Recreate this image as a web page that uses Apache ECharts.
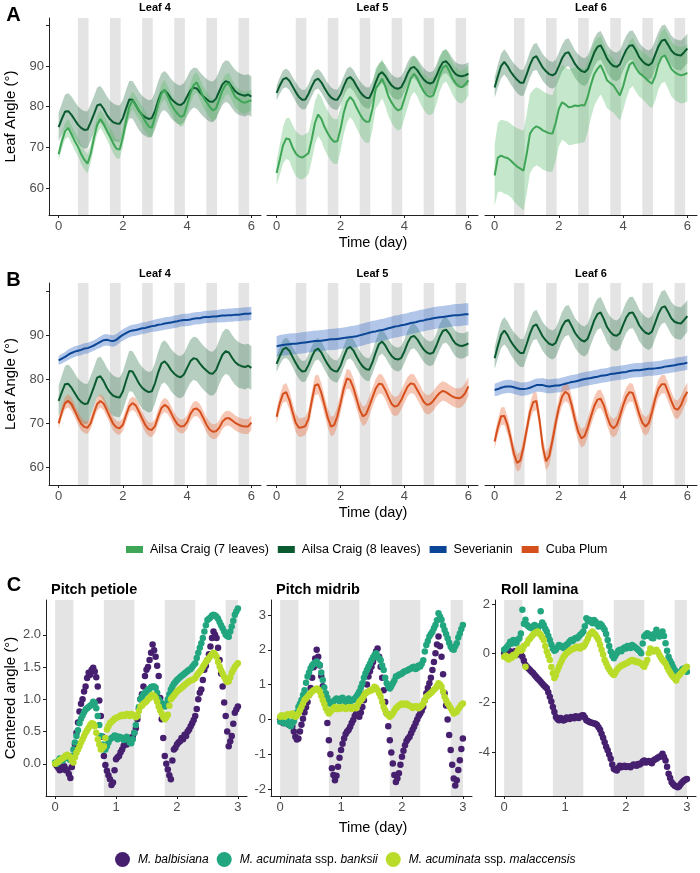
<!DOCTYPE html>
<html><head><meta charset="utf-8">
<script src="https://cdn.jsdelivr.net/npm/echarts@6/dist/echarts.min.js"></script>
<style>html,body{margin:0;padding:0;background:#fff}#c{width:700px;height:873px}</style>
</head><body><div id="c"></div>
<script>
// ---------- time axes ----------
const tAB = [0,0.1,0.2,0.3,0.4,0.5,0.6,0.7,0.8,0.9,1,1.1,1.2,1.3,1.4,1.5,1.6,1.7,1.8,1.9,2,2.1,2.2,2.3,2.4,2.5,2.6,2.7,2.8,2.9,3,3.1,3.2,3.3,3.4,3.5,3.6,3.7,3.8,3.9,4,4.1,4.2,4.3,4.4,4.5,4.6,4.7,4.8,4.9,5,5.1,5.2,5.3,5.4,5.5,5.6,5.7,5.8,5.9,6];
const tC = [0,0.025,0.05,0.075,0.1,0.125,0.15,0.175,0.2,0.225,0.25,0.275,0.3,0.325,0.35,0.375,0.4,0.425,0.45,0.475,0.5,0.525,0.55,0.575,0.6,0.625,0.65,0.675,0.7,0.725,0.75,0.775,0.8,0.825,0.85,0.875,0.9,0.925,0.95,0.975,1,1.025,1.05,1.075,1.1,1.125,1.15,1.175,1.2,1.225,1.25,1.275,1.3,1.325,1.35,1.375,1.4,1.425,1.45,1.475,1.5,1.525,1.55,1.575,1.6,1.625,1.65,1.675,1.7,1.725,1.75,1.775,1.8,1.825,1.85,1.875,1.9,1.925,1.95,1.975,2,2.025,2.05,2.075,2.1,2.125,2.15,2.175,2.2,2.225,2.25,2.275,2.3,2.325,2.35,2.375,2.4,2.425,2.45,2.475,2.5,2.525,2.55,2.575,2.6,2.625,2.65,2.675,2.7,2.725,2.75,2.775,2.8,2.825,2.85,2.875,2.9,2.925,2.95,2.975,3];
const nightsAB = [[0.6,0.93],[1.6,1.93],[2.6,2.93],[3.6,3.93],[4.6,4.93],[5.6,5.93]];
const nightsC = [[0,0.3],[0.8,1.3],[1.8,2.3],[2.8,3]];

// ---------- tick labels ----------
const ticksX_AB = [0,2,4,6];
const labelsY_AB = [60,70,80,90];
const ticksY_AB = [60,70,80,90,100];
const ticksX_C = [0,1,2,3];
const ticksY_C1 = [0,0.5,1,1.5,2];
const ticksY_C2 = [-2,-1,0,1,2,3];
const ticksY_C3 = [-4,-2,0,2];

// ---------- names ----------
const leafTitles = ['Leaf 4','Leaf 5','Leaf 6'];
const cTitles = ['Pitch petiole','Pitch midrib','Roll lamina'];
const genotypes = ['Ailsa Craig (7 leaves)','Ailsa Craig (8 leaves)','Severianin','Cuba Plum'];
const species = ['M. balbisiana','M. acuminata ssp. banksii','M. acuminata ssp. malaccensis'];

// ---------- Ailsa Craig (8 leaves): mean & half-width ----------
const L4_AC8 = [75.0,77.0,78.8,78.9,78.0,76.8,75.6,74.8,74.3,74.4,76.2,78.2,80.3,80.6,79.5,78.0,76.9,76.2,75.9,75.8,77.2,79.6,81.8,81.7,80.4,79.0,78.0,77.4,77.0,77.2,79.0,81.5,83.5,84.0,83.2,82.0,81.2,80.6,80.4,81.0,82.5,84.0,84.7,84.5,83.5,82.6,81.9,81.3,81.2,82.0,83.8,85.5,86.3,86.0,84.8,83.8,83.2,82.9,82.7,83.0,82.5];
const L4_AC8w = [3.5,3.8,4.2,4.4,4.5,4.5,4.5,4.6,4.6,4.5,4.5,4.4,4.4,4.5,4.5,4.6,4.6,4.6,4.5,4.5,4.5,4.5,4.6,4.6,4.7,4.7,4.7,4.6,4.6,4.6,4.6,4.7,4.7,4.8,4.8,4.8,4.8,4.8,4.8,4.8,4.8,4.9,4.9,5.0,5.0,5.0,5.0,5.0,5.0,5.0,5.0,5.1,5.1,5.2,5.2,5.2,5.2,5.1,5.1,5.0,5.0];
const L5_AC8 = [83.4,85.2,86.7,87.1,86.4,85.0,83.6,82.4,81.7,81.8,83.2,85.0,86.5,86.9,86.0,84.6,83.3,82.3,81.8,81.7,83.0,85.0,86.8,87.3,86.5,85.1,83.8,82.8,82.2,82.1,83.8,86.0,87.9,88.5,87.6,86.3,85.2,84.6,84.4,84.8,86.3,88.2,89.5,89.8,89.0,87.8,86.7,86.0,85.7,86.0,87.6,89.5,90.9,91.2,90.3,89.0,88.0,87.6,87.5,87.7,88.1];
const L5_AC8w = [1.8,2.0,2.2,2.3,2.3,2.3,2.4,2.4,2.4,2.4,2.4,2.4,2.4,2.4,2.5,2.5,2.5,2.5,2.5,2.5,2.5,2.5,2.5,2.6,2.6,2.6,2.6,2.6,2.6,2.6,2.6,2.7,2.7,2.7,2.7,2.7,2.7,2.7,2.7,2.7,2.7,2.8,2.8,2.8,2.8,2.8,2.8,2.8,2.8,2.8,2.8,2.9,2.9,2.9,2.9,2.9,2.9,2.9,2.9,2.8,2.8];
const L6_AC8 = [84.7,87.5,90.0,91.0,90.0,88.6,87.5,86.6,85.9,85.9,88.0,90.3,92.0,92.4,91.0,89.6,88.7,88.0,87.7,88.2,90.0,91.9,93.1,93.4,92.0,90.5,89.5,88.8,88.5,89.2,91.2,93.3,94.7,95.1,93.6,91.8,90.7,90.0,89.8,90.4,92.3,94.0,95.0,95.1,93.8,92.2,91.2,90.5,90.2,90.8,92.8,94.8,96.2,96.5,95.2,93.8,93.0,92.7,92.6,93.4,94.3];
const L6_AC8w = [2.5,2.8,3.0,3.1,3.1,3.1,3.1,3.2,3.2,3.2,3.2,3.2,3.2,3.3,3.3,3.3,3.3,3.3,3.3,3.3,3.3,3.3,3.4,3.4,3.4,3.4,3.4,3.4,3.4,3.4,3.4,3.5,3.5,3.5,3.5,3.5,3.5,3.5,3.5,3.5,3.5,3.5,3.6,3.6,3.6,3.6,3.6,3.6,3.6,3.6,3.6,3.6,3.7,3.7,3.7,3.7,3.7,3.7,3.7,3.6,3.6];

// ---------- Ailsa Craig (7 leaves) ----------
const L4_AC7 = [68.3,71.5,74.0,74.8,73.2,71.6,70.2,68.4,67.0,66.0,68.5,72.3,75.5,77.0,75.8,74.2,72.6,71.0,69.7,69.5,72.5,76.5,80.0,81.6,80.4,79.1,77.8,76.4,75.2,74.8,77.5,80.7,83.2,84.2,82.5,80.7,79.3,78.3,77.5,77.9,80.5,83.2,85.3,86.0,84.3,82.4,81.2,80.0,79.1,79.6,81.8,84.0,85.4,85.7,84.0,82.4,81.8,81.2,81.0,81.3,81.6];
const L4_AC7w = [1.5,1.8,2.0,2.2,2.2,2.3,2.3,2.4,2.4,2.4,2.3,2.2,2.2,2.2,2.3,2.3,2.4,2.4,2.4,2.3,2.3,2.2,2.2,2.2,2.3,2.3,2.4,2.4,2.4,2.3,2.3,2.3,2.3,2.4,2.4,2.5,2.5,2.5,2.5,2.4,2.4,2.4,2.5,2.5,2.5,2.6,2.6,2.6,2.6,2.5,2.5,2.5,2.6,2.6,2.6,2.7,2.7,2.7,2.7,2.6,2.6];
const L5_AC7 = [63.7,67.0,70.5,72.2,72.0,70.0,68.5,67.8,67.5,68.0,68.6,72.0,76.0,78.1,77.0,75.0,73.5,72.2,71.4,71.5,74.5,78.5,81.2,82.4,81.5,79.8,78.3,77.0,76.3,76.4,79.5,84.5,85.5,86.9,85.0,82.5,81.0,79.8,79.1,79.5,82.0,84.5,87.0,88.1,87.0,85.2,83.8,82.8,82.4,82.8,85.0,87.8,89.6,90.2,88.8,87.0,85.8,85.0,84.8,85.5,86.5];
const L5_AC7w = [3.0,3.8,4.5,5.0,5.3,5.5,5.5,5.5,5.4,5.3,5.2,5.2,5.3,5.3,5.4,5.5,5.5,5.5,5.5,5.5,5.4,5.3,5.1,5.0,5.0,5.0,5.1,5.2,5.2,5.2,5.1,5.0,4.8,4.8,4.8,4.9,5.0,5.0,5.0,4.9,4.8,4.6,4.5,4.4,4.4,4.5,4.5,4.5,4.5,4.4,4.3,4.1,4.0,4.0,4.0,4.0,4.0,4.0,4.0,3.9,3.8];
const L6_AC7 = [63.1,67.5,68.0,67.6,67.4,66.8,66.0,65.3,64.8,64.3,68.5,73.4,74.6,75.2,74.8,74.2,73.8,73.5,73.4,76.0,79.5,81.1,80.6,79.9,80.0,80.3,80.2,80.4,80.3,82.5,85.5,88.0,89.3,90.2,88.5,86.5,85.8,85.2,84.0,82.8,85.0,88.0,90.3,91.0,89.5,88.3,87.7,87.0,86.2,85.7,87.5,90.5,92.2,92.6,91.0,89.3,88.5,88.0,87.7,87.9,88.3];
const L6_AC7w = [7.5,8.5,8.8,9.0,9.0,9.0,9.2,9.4,9.6,9.8,9.8,9.7,9.6,9.6,9.6,9.6,9.6,9.5,9.4,9.3,9.2,9.2,9.2,9.3,9.4,9.4,9.3,9.2,9.0,8.6,8.2,7.8,7.5,7.2,7.0,6.9,6.8,6.6,6.4,6.2,6.0,6.0,6.0,5.9,5.8,5.8,5.8,5.9,6.0,6.0,6.0,6.2,6.4,6.5,6.6,6.7,6.8,6.8,6.9,7.0,7.0];

// ---------- Severianin ----------
const L4_SEV = [84.2,84.6,85.0,85.5,85.9,86.2,86.4,86.6,86.9,87.0,87.3,87.6,88.0,88.4,88.8,88.9,88.7,88.6,88.9,89.5,90.0,90.4,90.8,91.0,91.1,91.3,91.5,91.6,91.8,92.0,92.1,92.3,92.4,92.6,92.7,92.8,93.0,93.1,93.3,93.4,93.4,93.5,93.7,93.8,93.8,94.0,94.1,94.1,94.2,94.2,94.3,94.4,94.4,94.5,94.5,94.6,94.6,94.7,94.8,94.8,94.9];
const L4_SEVw = [1.0,1.1,1.1,1.2,1.2,1.2,1.2,1.2,1.2,1.2,1.2,1.2,1.2,1.3,1.3,1.3,1.3,1.3,1.3,1.3,1.3,1.3,1.3,1.3,1.3,1.3,1.3,1.3,1.3,1.3,1.4,1.4,1.4,1.4,1.4,1.4,1.4,1.4,1.4,1.4,1.4,1.4,1.4,1.4,1.4,1.4,1.4,1.4,1.4,1.4,1.5,1.5,1.5,1.5,1.5,1.5,1.5,1.5,1.5,1.5,1.5];
const L5_SEV = [87.4,87.6,87.7,87.8,87.9,88.0,88.0,88.1,88.2,88.3,88.4,88.5,88.6,88.6,88.7,88.8,88.9,89.0,89.0,89.1,89.2,89.3,89.4,89.5,89.6,89.7,89.9,90.1,90.3,90.5,90.7,90.8,91.0,91.1,91.3,91.5,91.7,91.9,92.0,92.2,92.3,92.5,92.7,92.8,93.0,93.2,93.3,93.5,93.6,93.8,93.9,94.0,94.1,94.2,94.3,94.4,94.5,94.5,94.6,94.7,94.7];
const L5_SEVw = [2.3,2.4,2.4,2.4,2.4,2.4,2.4,2.4,2.4,2.4,2.4,2.4,2.4,2.4,2.4,2.4,2.4,2.4,2.4,2.4,2.4,2.4,2.4,2.5,2.5,2.5,2.5,2.5,2.5,2.5,2.5,2.5,2.5,2.5,2.5,2.5,2.5,2.5,2.5,2.5,2.5,2.5,2.5,2.5,2.5,2.5,2.5,2.5,2.5,2.5,2.5,2.5,2.5,2.5,2.5,2.5,2.5,2.5,2.5,2.5,2.5];
const L6_SEV = [77.5,77.7,78.0,78.2,78.3,78.3,78.1,77.9,77.7,77.7,77.8,78.0,78.3,78.6,78.6,78.6,78.4,78.3,78.4,78.5,78.5,78.7,78.9,79.1,79.3,79.4,79.6,79.8,80.0,80.1,80.2,80.4,80.5,80.7,80.8,80.9,81.1,81.2,81.3,81.4,81.5,81.6,81.8,81.9,82.0,82.0,82.1,82.2,82.3,82.3,82.4,82.5,82.6,82.8,82.9,83.0,83.1,83.3,83.4,83.5,83.7];
const L6_SEVw = [1.4,1.5,1.5,1.5,1.5,1.5,1.5,1.5,1.5,1.5,1.5,1.5,1.5,1.5,1.5,1.6,1.6,1.6,1.6,1.6,1.6,1.6,1.6,1.6,1.6,1.6,1.6,1.6,1.6,1.6,1.6,1.6,1.6,1.6,1.6,1.6,1.6,1.6,1.6,1.6,1.6,1.6,1.6,1.6,1.6,1.6,1.6,1.6,1.6,1.6,1.6,1.6,1.6,1.6,1.6,1.6,1.6,1.6,1.6,1.6,1.6];

// ---------- Cuba Plum ----------
const L4_CP = [69.9,72.5,74.5,75.0,74.3,72.8,71.2,69.8,69.1,68.9,70.0,72.3,74.3,75.0,74.4,72.9,71.3,69.8,69.0,68.8,69.6,71.8,73.8,74.5,74.0,72.6,71.0,69.5,68.6,68.4,69.3,71.5,73.4,74.1,73.6,72.3,70.8,69.7,69.2,69.3,70.2,72.0,73.1,73.3,72.6,71.2,69.6,68.5,68.0,68.1,68.9,70.3,71.0,71.1,70.6,70.0,69.6,69.3,69.2,69.2,70.1];
const L4_CPw = [1.2,1.3,1.4,1.5,1.5,1.5,1.5,1.5,1.4,1.4,1.4,1.4,1.5,1.5,1.5,1.5,1.5,1.5,1.5,1.5,1.5,1.5,1.5,1.5,1.6,1.6,1.6,1.6,1.6,1.6,1.6,1.6,1.6,1.6,1.6,1.6,1.6,1.6,1.6,1.6,1.6,1.6,1.7,1.7,1.7,1.7,1.7,1.7,1.7,1.7,1.7,1.7,1.7,1.7,1.7,1.7,1.7,1.7,1.7,1.7,1.7];
const L5_CP = [71.4,74.5,76.6,77.0,75.2,72.5,70.0,68.9,69.0,69.3,71.0,75.0,78.5,78.8,76.8,74.0,71.2,69.2,69.5,71.5,74.5,77.8,80.1,79.8,78.0,75.5,73.0,71.5,72.0,73.8,75.8,77.8,78.9,78.8,77.5,75.8,74.3,73.7,74.0,75.2,76.8,78.3,79.0,78.8,77.5,76.2,74.8,74.1,74.3,75.0,76.0,76.8,77.3,77.0,76.5,76.0,75.7,75.6,75.9,76.8,78.3];
const L5_CPw = [1.6,1.8,2.0,2.1,2.1,2.1,2.1,2.1,2.1,2.1,2.1,2.1,2.2,2.2,2.2,2.2,2.2,2.2,2.2,2.2,2.2,2.2,2.2,2.2,2.2,2.2,2.2,2.2,2.2,2.2,2.2,2.2,2.2,2.2,2.2,2.2,2.2,2.2,2.2,2.2,2.2,2.2,2.2,2.2,2.2,2.2,2.2,2.2,2.2,2.2,2.2,2.2,2.2,2.2,2.2,2.2,2.2,2.2,2.2,2.2,2.2];
const L6_CP = [65.8,69.0,71.5,71.6,69.5,66.5,63.0,60.9,61.5,64.5,68.5,72.5,74.7,75.0,70.5,64.5,61.3,62.5,66.0,70.0,73.5,76.0,77.1,76.5,74.0,70.8,68.0,66.5,67.0,69.0,71.5,73.8,75.3,75.5,74.0,71.5,69.5,68.8,69.5,71.5,74.0,76.0,77.0,76.8,74.5,72.0,70.0,69.2,70.0,72.5,75.5,77.8,78.8,78.8,77.0,75.0,73.3,73.0,74.0,75.8,77.1];
const L6_CPw = [1.6,1.8,2.0,2.0,2.0,2.0,2.0,2.0,2.0,2.0,2.0,2.0,2.1,2.1,2.1,2.1,2.1,2.1,2.1,2.1,2.1,2.1,2.1,2.1,2.1,2.1,2.1,2.1,2.1,2.1,2.1,2.1,2.1,2.1,2.1,2.1,2.1,2.1,2.1,2.1,2.1,2.1,2.1,2.1,2.1,2.1,2.1,2.1,2.1,2.1,2.1,2.1,2.1,2.1,2.1,2.1,2.1,2.1,2.1,2.1,2.1];

// ---------- Banana (C), centered angles ----------
const petiole_balb = [0.0,-0.03,-0.06,-0.1,-0.09,-0.05,-0.04,-0.1,-0.09,-0.16,-0.22,-0.05,0.12,0.3,0.48,0.64,0.81,0.93,1.0,1.12,1.2,1.33,1.41,1.38,1.46,1.49,1.43,1.34,1.2,0.98,0.74,0.42,0.12,-0.02,-0.11,-0.18,-0.24,-0.33,-0.29,-0.1,0.07,0.1,0.12,0.18,0.22,0.28,0.32,0.3,0.35,0.4,0.38,0.42,0.48,0.55,0.69,0.85,1.0,1.08,1.2,1.36,1.46,1.5,1.61,1.72,1.85,1.76,1.66,1.52,1.36,1.02,0.69,0.4,0.12,0.0,-0.09,-0.18,-0.24,0.05,0.22,0.25,0.3,0.33,0.35,0.4,0.38,0.45,0.43,0.5,0.53,0.58,0.63,0.68,0.74,0.85,1.0,1.1,1.15,1.3,1.46,1.52,1.61,1.7,1.82,1.95,2.05,2.0,1.95,1.8,1.61,1.4,1.2,0.95,0.74,0.5,0.27,0.35,0.43,0.62,0.79,0.84,0.89];
const petiole_bank = [0.02,0.0,0.04,0.08,0.07,0.05,0.09,0.12,0.12,0.08,0.06,0.12,0.22,0.33,0.43,0.52,0.63,0.7,0.75,0.8,0.84,0.86,0.88,0.9,0.92,0.96,0.94,0.86,0.74,0.6,0.43,0.3,0.22,0.22,0.27,0.33,0.38,0.4,0.41,0.44,0.43,0.38,0.42,0.41,0.40,0.37,0.39,0.42,0.38,0.33,0.32,0.38,0.48,0.6,0.74,0.88,1.0,1.04,1.08,1.1,1.12,1.15,1.16,1.19,1.2,1.2,1.18,1.1,1.0,0.96,0.94,0.9,0.89,0.93,1.0,1.08,1.15,1.2,1.24,1.27,1.3,1.32,1.34,1.36,1.38,1.4,1.42,1.44,1.46,1.47,1.5,1.53,1.56,1.64,1.72,1.8,1.87,1.95,2.05,2.15,2.23,2.25,2.27,2.3,2.31,2.3,2.28,2.25,2.2,2.15,2.1,2.05,2.0,1.98,1.97,2.05,2.13,2.22,2.31,2.36,2.41];
const petiole_mal = [0.0,0.02,0.03,0.06,0.07,0.09,0.1,0.13,0.14,0.12,0.1,0.05,0.02,0.1,0.17,0.22,0.27,0.33,0.38,0.43,0.48,0.52,0.56,0.6,0.63,0.62,0.58,0.48,0.38,0.3,0.22,0.24,0.27,0.4,0.53,0.58,0.63,0.65,0.67,0.7,0.71,0.72,0.73,0.75,0.76,0.74,0.75,0.77,0.76,0.74,0.77,0.76,0.75,0.72,0.74,0.82,0.89,0.9,0.93,0.95,0.97,1.0,1.02,1.05,1.07,1.05,1.02,0.96,0.89,0.83,0.78,0.72,0.69,0.72,0.76,0.9,1.0,1.03,1.06,1.09,1.12,1.14,1.16,1.18,1.2,1.22,1.24,1.26,1.28,1.29,1.3,1.31,1.33,1.37,1.4,1.43,1.46,1.5,1.54,1.58,1.61,1.64,1.67,1.7,1.72,1.7,1.66,1.58,1.51,1.45,1.4,1.35,1.3,1.27,1.28,1.34,1.41,1.46,1.5,1.53,1.56];
const midrib_balb = [0.0,-0.05,-0.1,-0.02,-0.05,-0.12,-0.16,-0.1,-0.2,-0.35,-0.5,-0.58,-0.55,-0.35,-0.15,0.02,0.2,0.35,0.5,0.7,0.9,1.2,1.5,1.75,2.0,1.8,1.55,1.25,0.95,0.7,0.45,-0.1,-0.6,-1.0,-1.4,-1.6,-1.75,-1.62,-1.36,-1.1,-0.88,-0.7,-0.55,-0.42,-0.35,-0.3,-0.21,-0.1,-0.02,0.1,0.17,0.12,0.08,0.2,0.36,0.55,0.75,1.0,1.23,1.38,1.51,1.65,1.8,1.95,2.04,1.8,1.51,1.2,0.84,0.5,0.17,-0.2,-0.6,-0.95,-1.27,-1.6,-1.8,-1.7,-1.55,-1.3,-1.07,-0.9,-0.74,-0.62,-0.55,-0.5,-0.4,-0.3,-0.21,-0.1,0.0,0.1,0.17,0.25,0.36,0.55,0.75,0.9,1.04,1.2,1.42,1.65,1.9,2.15,2.38,2.1,1.8,1.3,0.75,0.4,0.0,-0.45,-0.88,-1.3,-1.7,-1.9,-1.75,-1.45,-1.17,-0.85,-0.55];
const midrib_bank = [-0.07,-0.02,-0.05,-0.12,-0.1,-0.05,-0.15,-0.2,-0.12,-0.05,0.08,0.2,0.36,0.45,0.56,0.7,0.84,1.05,1.23,1.35,1.47,1.55,1.6,1.62,1.66,1.6,1.56,1.35,1.13,0.92,0.75,0.62,0.51,0.45,0.46,0.52,0.56,0.6,0.58,0.52,0.6,0.62,0.55,0.5,0.56,0.6,0.52,0.55,0.56,0.6,0.65,0.72,0.8,0.92,1.04,1.2,1.32,1.42,1.51,1.6,1.7,1.78,1.85,1.9,1.8,1.75,1.7,1.55,1.42,1.2,1.04,0.95,0.89,0.95,1.04,1.12,1.23,1.25,1.28,1.3,1.32,1.36,1.38,1.4,1.42,1.45,1.46,1.5,1.51,1.45,1.48,1.55,1.52,1.6,1.7,1.95,2.14,2.25,2.38,2.45,2.52,2.62,2.71,2.85,3.05,2.95,2.86,2.7,2.57,2.45,2.33,2.2,2.09,2.02,2.0,2.1,2.19,2.35,2.47,2.6,2.71];
const midrib_mal = [0.08,0.12,0.1,0.08,0.12,0.15,0.14,0.12,0.17,0.12,0.08,0.12,0.17,0.26,0.36,0.46,0.56,0.6,0.65,0.7,0.75,0.8,0.84,0.86,0.89,0.86,0.8,0.68,0.56,0.44,0.32,0.24,0.17,0.22,0.27,0.32,0.36,0.3,0.34,0.3,0.32,0.36,0.33,0.3,0.32,0.36,0.35,0.3,0.36,0.33,0.32,0.42,0.51,0.55,0.6,0.68,0.75,0.78,0.8,0.82,0.84,0.88,0.94,0.9,0.84,0.75,0.65,0.5,0.36,0.26,0.17,0.12,0.08,0.12,0.17,0.25,0.32,0.36,0.4,0.43,0.46,0.42,0.44,0.46,0.41,0.4,0.38,0.33,0.36,0.38,0.37,0.32,0.36,0.4,0.46,0.55,0.65,0.68,0.72,0.76,0.8,0.85,0.89,0.96,1.04,1.0,0.94,0.8,0.65,0.55,0.46,0.4,0.32,0.25,0.17,0.2,0.22,0.3,0.36,0.42,0.46];
const roll_balb = [0.0,0.08,0.13,0.1,0.07,0.0,0.03,0.08,-0.07,0.0,0.05,-0.05,-0.14,-0.3,-0.47,-0.55,-0.61,-0.68,-0.75,-0.8,-0.88,-0.95,-1.02,-1.08,-1.15,-1.22,-1.29,-1.35,-1.42,-1.58,-1.76,-1.95,-2.17,-2.38,-2.58,-2.66,-2.71,-2.62,-2.65,-2.72,-2.69,-2.6,-2.62,-2.66,-2.58,-2.6,-2.63,-2.55,-2.58,-2.62,-2.55,-2.52,-2.51,-2.6,-2.71,-2.74,-2.78,-2.8,-2.82,-2.84,-2.85,-2.9,-2.99,-3.1,-3.26,-3.42,-3.6,-3.78,-3.93,-4.1,-4.27,-4.5,-4.68,-4.72,-4.75,-4.65,-4.55,-4.62,-4.6,-4.55,-4.61,-4.57,-4.58,-4.62,-4.55,-4.5,-4.52,-4.55,-4.48,-4.5,-4.45,-4.38,-4.34,-4.42,-4.4,-4.36,-4.41,-4.45,-4.34,-4.3,-4.27,-4.22,-4.2,-4.15,-4.07,-4.2,-4.34,-4.6,-4.88,-5.05,-5.22,-5.3,-5.36,-5.4,-5.43,-5.38,-5.29,-5.22,-5.16,-5.12,-5.09];
const roll_bank = [0.14,0.2,0.27,0.35,0.47,0.4,0.54,0.5,0.41,0.55,0.61,0.8,1.76,1.2,1.36,1.15,1.09,1.05,1.02,1.1,1.15,1.05,0.95,1.1,1.7,1.25,1.15,1.0,0.88,0.7,0.54,0.36,0.2,0.1,0.14,0.25,0.34,0.28,0.3,0.22,0.27,0.35,0.4,0.48,0.54,0.5,0.58,0.62,0.61,0.68,0.75,0.8,0.88,1.1,1.42,1.3,1.36,1.28,1.22,1.35,1.29,1.18,1.09,1.2,1.15,1.05,0.95,0.78,0.54,0.3,0.07,-0.1,-0.2,-0.1,0.0,0.1,0.14,0.08,0.17,0.24,0.2,0.3,0.28,0.22,0.34,0.3,0.25,0.2,0.14,0.08,0.0,0.4,0.68,0.75,0.81,0.7,0.75,0.62,0.61,0.8,0.95,0.75,0.68,0.8,0.88,0.7,0.41,0.1,-0.14,-0.3,-0.41,-0.55,-0.68,-0.75,-0.81,-0.85,-0.75,-0.65,-0.61,-0.7,-0.75];
const roll_mal = [-0.14,-0.1,-0.2,-0.25,-0.14,-0.18,-0.07,-0.1,0.0,0.1,0.2,0.1,0.14,0.3,-0.54,0.4,0.54,0.6,0.68,0.75,0.81,0.85,0.88,0.8,0.75,0.65,0.54,0.3,0.07,-0.1,-0.27,-0.55,-0.81,-1.0,-0.88,-0.7,-0.54,-0.4,-0.27,-0.15,-0.07,0.0,0.05,0.1,0.14,0.18,0.2,0.25,0.27,0.22,0.2,0.3,0.27,0.35,0.47,0.6,0.75,0.82,0.88,0.8,0.75,0.65,0.54,0.35,0.14,-0.05,-0.27,-0.4,-0.54,-0.65,-0.75,-0.82,-0.88,-0.8,-0.68,-0.6,-0.54,-0.5,-0.47,-0.44,-0.41,-0.38,-0.34,-0.3,-0.27,-0.32,-0.3,-0.36,-0.34,-0.38,-0.41,-0.48,-0.54,-0.4,-0.27,0.0,0.2,0.12,0.07,0.1,0.14,0.05,-0.07,-0.18,-0.27,-0.34,-0.41,-0.55,-0.68,-0.78,-0.88,-0.95,-1.02,-1.1,-0.95,-0.88,-0.81,-0.75,-0.68,-0.6,-0.54];

// ================= chart =================
const FONT = '"Liberation Sans", Arial, Helvetica, sans-serif';
const COL = {ac7:'#3fa557', ac8:'#0a5a2f', sev:'#0b4596', cp:'#d5501c',
  ac7band:'rgba(90,185,105,0.35)', ac8band:'rgba(30,105,60,0.33)', sevband:'rgba(70,120,200,0.42)', cpband:'rgba(235,115,70,0.4)',
  balb:'#46206f', bank:'#22a67f', mal:'#b9dc2a', night:'#e4e4e4', axis:'#222', tick:'#4d4d4d'};

const grids=[], xAxes=[], yAxes=[], series=[], graphics=[];
function addGrid(left, top, width, height, xr, yr, xt, yt, yl, yfmt){
  const i = grids.length;
  grids.push({left, top, width, height, containLabel:false});
  const common = {axisLine:{onZero:false, lineStyle:{color:COL.axis, width:1}}, splitLine:{show:false}};
  xAxes.push(Object.assign({type:'value', gridIndex:i, min:xr[0], max:xr[1],
    axisTick:{show:true, length:3, lineStyle:{color:COL.axis}, customValues:xt},
    axisLabel:{customValues:xt, color:COL.tick, fontSize:13, margin:5, fontFamily:FONT}}, common));
  yAxes.push(Object.assign({type:'value', gridIndex:i, min:yr[0], max:yr[1],
    axisTick:{show:true, length:3, lineStyle:{color:COL.axis}, customValues:yt},
    axisLabel:{customValues:yl, color:COL.tick, fontSize:13, margin:5, fontFamily:FONT, formatter: yfmt || (v=>String(v))}}, common));
  return i;
}
function nightArea(nights){
  return {silent:true, itemStyle:{color:COL.night}, label:{show:false}, data: nights.map(n=>[{xAxis:n[0]},{xAxis:n[1]}])};
}
function addBand(g, t, mid, w, color){
  const data = t.map((x,i)=>[x, +(mid[i]-w[i]).toFixed(2), +(mid[i]+w[i]).toFixed(2)]);
  series.push({type:'custom', xAxisIndex:g, yAxisIndex:g, data, silent:true, z:2, animation:false, clip:true,
    encode:{x:0, y:[1,2]},
    renderItem: function(params, api){
      if (params.dataIndex !== 0) return null;
      const pts = [];
      for (let i=0;i<data.length;i++) pts.push(api.coord([data[i][0], data[i][2]]));
      for (let i=data.length-1;i>=0;i--) pts.push(api.coord([data[i][0], data[i][1]]));
      return {type:'polygon', shape:{points:pts}, style:{fill:color}};
    }});
}
function addLine(g, t, v, name, color, ma){
  const s = {type:'line', name, xAxisIndex:g, yAxisIndex:g, data:t.map((x,i)=>[x,v[i]]), symbol:'none', color, itemStyle:{color}, lineStyle:{color, width:2}, z:3, silent:true, animation:false};
  if (ma) s.markArea = ma;
  series.push(s);
}
function addScatter(g, t, v, name, color, ma){
  const s = {type:'scatter', name, xAxisIndex:g, yAxisIndex:g, data:t.map((x,i)=>[x,v[i]]), symbolSize:6.5, color, itemStyle:{color, opacity:1}, z:3, silent:true, animation:false};
  if (ma) s.markArea = ma;
  series.push(s);
}
function text(x, y, str, size, style, rot){
  const el = {type:'text', x, y, silent:true, z:10, style:Object.assign({text:str, fontSize:size, fontFamily:FONT, fill:'#000', align:'center', verticalAlign:'middle'}, style||{})};
  if (rot) el.rotation = rot;
  graphics.push(el);
}

const lefts = [49, 267, 485];
const widths = [212, 211, 212];
// Row A
const rowA = [[L4_AC8,L4_AC8w,L4_AC7,L4_AC7w],[L5_AC8,L5_AC8w,L5_AC7,L5_AC7w],[L6_AC8,L6_AC8w,L6_AC7,L6_AC7w]];
rowA.forEach((d,k)=>{
  const g = addGrid(lefts[k], 18, widths[k], 197, [-0.3,6.3], [53.4,101.8], ticksX_AB, ticksY_AB, labelsY_AB);
  if (k>0) yAxes[g].show = false;
  addBand(g, tAB, d[0], d[1], COL.ac8band);
  addBand(g, tAB, d[2], d[3], COL.ac7band);
  addLine(g, tAB, d[0], genotypes[1], COL.ac8, nightArea(nightsAB));
  addLine(g, tAB, d[2], genotypes[0], COL.ac7);
  text(lefts[k]+widths[k]/2, 8, leafTitles[k], 11, {fontWeight:'bold'});
});
// Row B
const rowB = [[L4_AC8,L4_AC8w,L4_SEV,L4_SEVw,L4_CP,L4_CPw],[L5_AC8,L5_AC8w,L5_SEV,L5_SEVw,L5_CP,L5_CPw],[L6_AC8,L6_AC8w,L6_SEV,L6_SEVw,L6_CP,L6_CPw]];
rowB.forEach((d,k)=>{
  const g = addGrid(lefts[k], 283, widths[k], 202, [-0.3,6.3], [55.9,101.8], ticksX_AB, ticksY_AB, labelsY_AB);
  if (k>0) yAxes[g].show = false;
  addBand(g, tAB, d[0], d[1], COL.ac8band);
  addBand(g, tAB, d[2], d[3], COL.sevband);
  addBand(g, tAB, d[4], d[5], COL.cpband);
  addLine(g, tAB, d[0], genotypes[1], COL.ac8, nightArea(nightsAB));
  addLine(g, tAB, d[2], genotypes[2], COL.sev);
  addLine(g, tAB, d[4], genotypes[3], COL.cp);
  text(lefts[k]+widths[k]/2, 274, leafTitles[k], 11, {fontWeight:'bold'});
});
// Row C
const cLefts = [46, 271, 495];
const cData = [[petiole_balb,petiole_bank,petiole_mal],[midrib_balb,midrib_bank,midrib_mal],[roll_balb,roll_bank,roll_mal]];
const cY = [[-0.5,2.54],[-2.2,3.43],[-5.78,2.16]];
const cT = [ticksY_C1, ticksY_C2, ticksY_C3];
const cF = [v=>v.toFixed(1), v=>String(v), v=>String(v)];
const cTitleX = [51, 276, 501];
cData.forEach((d,k)=>{
  const g = addGrid(cLefts[k], 600, 201, 196, [-0.15,3.15], cY[k], ticksX_C, cT[k], cT[k], cF[k]);
  addScatter(g, tC, d[0], species[0], COL.balb, nightArea(nightsC));
  addScatter(g, tC, d[1], species[1], COL.bank);
  addScatter(g, tC, d[2], species[2], COL.mal);
  text(cTitleX[k], 590, cTitles[k], 14.5, {fontWeight:'bold', align:'left'});
});

// panel letters and axis titles
text(13.5, 15, 'A', 20, {fontWeight:'bold'});
text(13.5, 280, 'B', 20, {fontWeight:'bold'});
text(14, 585, 'C', 20, {fontWeight:'bold'});
text(373, 243, 'Time (day)', 14.5);
text(373, 513, 'Time (day)', 14.5);
text(373, 828, 'Time (day)', 14.5);
text(11, 116.5, 'Leaf Angle (°)', 15, null, Math.PI/2);
text(11, 384, 'Leaf Angle (°)', 15, null, Math.PI/2);
text(11, 698, 'Centered angle (°)', 15, null, Math.PI/2);

const option = {
  animation:false,
  backgroundColor:'#fff',
  grid: grids, xAxis: xAxes, yAxis: yAxes, series,
  graphic: graphics,
  legend: [
    {data: genotypes, left:126, top:543, icon:'rect', itemWidth:17, itemHeight:7, itemGap:9, padding:0, selectedMode:false,
     textStyle:{fontSize:12.5, color:'#000', fontFamily:FONT, padding:[0,0,0,2]}},
    {data: species, left:115, top:852, icon:'circle', itemWidth:15, itemHeight:15, itemGap:8, padding:0, selectedMode:false,
     formatter: n => n==='M. balbisiana' ? '{i|M. balbisiana}' : (n.indexOf('banksii')>=0 ? '{i|M. acuminata} ssp. {i|banksii}' : '{i|M. acuminata} ssp. {i|malaccensis}'),
     textStyle:{fontSize:12, color:'#000', fontFamily:FONT, padding:[0,0,0,3], rich:{i:{fontStyle:'italic', fontSize:12, fontFamily:FONT, color:'#000'}}}}
  ]
};
const chart = echarts.init(document.getElementById('c'), null, {renderer:'canvas'});
chart.setOption(option);
</script>
</body></html>
